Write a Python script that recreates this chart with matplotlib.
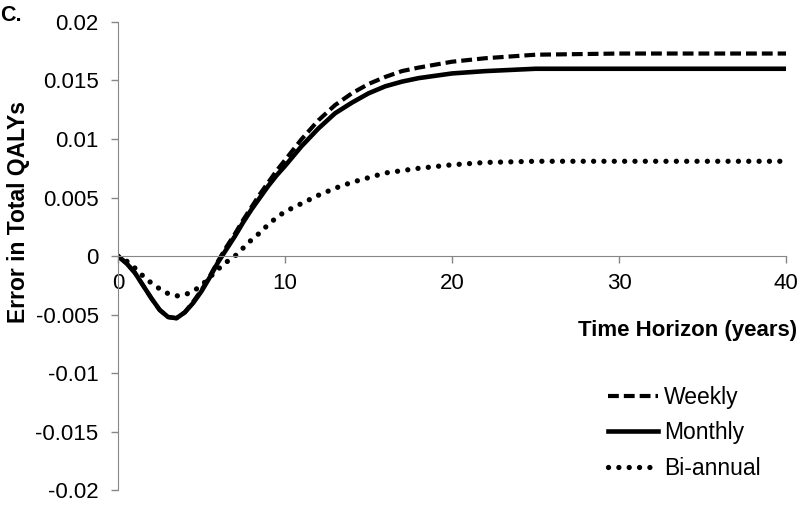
import matplotlib
matplotlib.use('Agg')
import matplotlib.pyplot as plt

plt.rcParams['font.family'] = ['Liberation Sans', 'DejaVu Sans']

years = [0, 0.5, 1, 1.5, 2, 2.5, 3, 3.5, 4, 4.5, 5, 5.5, 6, 6.5, 7, 7.5, 8, 8.5, 9, 9.5, 10,
         11, 12, 13, 14, 15, 16, 17, 18, 20, 22, 25, 30, 35, 40]
weekly = [0, -0.0006, -0.0014, -0.0025, -0.0036, -0.0046, -0.0052, -0.0053, -0.0048, -0.0039,
          -0.0029, -0.0017, -0.0004, 0.0008, 0.0019, 0.0031, 0.0042, 0.0053, 0.0063, 0.0073, 0.0082,
          0.0100, 0.0116, 0.0129, 0.0139, 0.0147, 0.0153, 0.0158, 0.0161, 0.0166, 0.0169, 0.0172,
          0.0173, 0.0173, 0.0173]
monthly = [0, -0.0006, -0.0014, -0.0025, -0.0036, -0.0046, -0.0052, -0.0053, -0.0048, -0.0040,
           -0.0030, -0.0018, -0.0005, 0.0006, 0.0017, 0.0029, 0.0040, 0.0050, 0.0060, 0.0069, 0.0077,
           0.0094, 0.0109, 0.0122, 0.0131, 0.0139, 0.0145, 0.0149, 0.0152, 0.0156, 0.0158, 0.0160,
           0.0160, 0.0160, 0.0160]
biannual = [0, -0.0004, -0.0010, -0.0017, -0.0023, -0.0028, -0.0032, -0.0034, -0.0033, -0.0030,
            -0.0025, -0.0018, -0.0011, -0.0005, 0.0000, 0.0007, 0.0014, 0.0020, 0.0027, 0.0033, 0.0038,
            0.0045, 0.0052, 0.0058, 0.0063, 0.0067, 0.0071, 0.0073, 0.0075, 0.0078, 0.0080, 0.0081,
            0.0081, 0.0081, 0.0081]
labels = ['Weekly', 'Monthly', 'Bi-annual']
y_ticks = [-0.02, -0.015, -0.01, -0.005, 0, 0.005, 0.01, 0.015, 0.02]
y_tick_labels = ['-0.02', '-0.015', '-0.01', '-0.005', '0', '0.005', '0.01', '0.015', '0.02']
x_ticks = [0, 10, 20, 30, 40]

fig = plt.figure(figsize=(8, 5.05), dpi=100)
ax = fig.add_axes([0.1475, 0.029, 0.835, 0.9276])

ax.plot(years, weekly, color='black', lw=3, dashes=(2.6, 1.2), label=labels[0])
ax.plot(years, monthly, color='black', lw=3.3, label=labels[1])
ax.plot(years, biannual, color='black', lw=3.8, dashes=(0.01, 1.95), dash_capstyle='round',
        label=labels[2])

ax.set_xlim(0, 40)
ax.set_ylim(-0.02, 0.02)
ax.set_yticks(y_ticks)
ax.set_yticklabels(y_tick_labels)
ax.set_xticks(x_ticks)

grey = '#868686'
for s in ['top', 'right']:
    ax.spines[s].set_visible(False)
ax.spines['bottom'].set_position(('data', 0))
ax.spines['bottom'].set_color(grey)
ax.spines['left'].set_color(grey)
ax.tick_params(axis='both', colors=grey, labelcolor='black', labelsize=16, length=5, width=1,
               direction='out')
ax.tick_params(axis='x', pad=7)
ax.tick_params(axis='y', pad=9)

fig.text(0.997, 0.346, 'Time Horizon (years)', ha='right', va='center', fontsize=16,
         fontweight='bold')
fig.text(0.023, 0.580, 'Error in Total QALYs', ha='center', va='center', rotation=90,
         fontsize=16.5, fontweight='bold')
fig.text(0.0, 0.97, 'C.', ha='left', va='center', fontsize=15.5, fontweight='bold')

ax.legend(loc='upper left', bbox_to_anchor=(0.76, 0.236), bbox_transform=fig.transFigure,
          frameon=False, fontsize=16.5, handlelength=2.2, handletextpad=0.26, labelspacing=0.55,
          borderaxespad=0, borderpad=0)

fig.savefig('out.png', dpi=100)
